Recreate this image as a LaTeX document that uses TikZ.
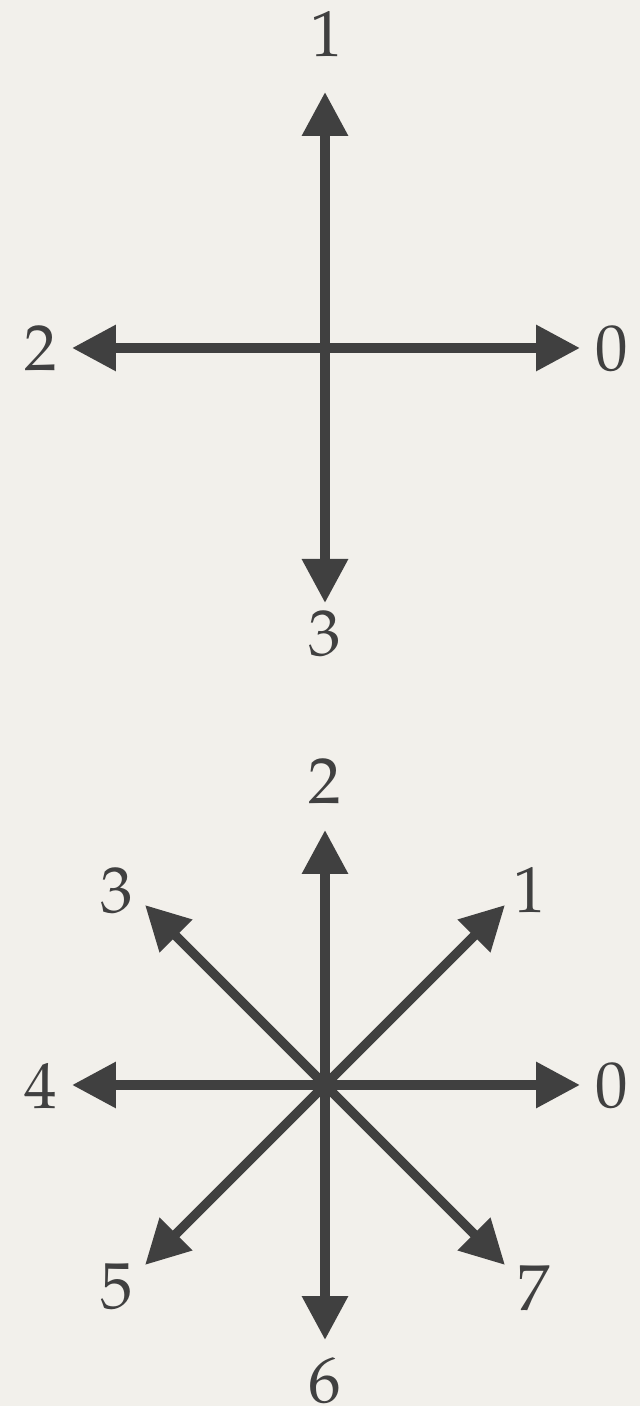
\documentclass[tikz,border=0pt]{standalone}
\usepackage[T1]{fontenc}
\usepackage{mathpazo}
\usepackage{tikz}
\usetikzlibrary{arrows.meta}
\definecolor{paper}{RGB}{242,240,235}
\definecolor{ink}{RGB}{64,64,64}

\begin{document}
\begin{tikzpicture}[
      x=0.02cm, y=0.02cm,
      arr/.style={-{Triangle[length=0.88cm, width=0.88cm]}, line width=0.19cm, color=ink},
      lbl/.style={inner sep=0pt, color=ink, font=\fontsize{37}{40}\selectfont}
  ]
    \fill[paper] (0,0) rectangle (640,1406);
    \useasboundingbox (0,0) rectangle (640,1406);

    % four directions
    \coordinate (ca) at (325,1058);
    \coordinate (a0) at (580,1058);
    \coordinate (a1) at (325,1314);
    \coordinate (a2) at (72,1058);
    \coordinate (a3) at (325,803);

    \draw[arr] (ca) -- (a0);
    \draw[arr] (ca) -- (a1);
    \draw[arr] (ca) -- (a2);
    \draw[arr] (ca) -- (a3);

    \node[lbl] (la0) at (612,1057) {0};
    \node[lbl] (la1) at (327,1372) {1};
    \node[lbl] (la2) at (41,1058)  {2};
    \node[lbl] (la3) at (325,772)  {3};

    % eight directions
    \coordinate (cb) at (325,321);
    \coordinate (b0) at (580,321);
    \coordinate (b1) at (505,501);
    \coordinate (b2) at (325,576);
    \coordinate (b3) at (145,501);
    \coordinate (b4) at (72,321);
    \coordinate (b5) at (145,141);
    \coordinate (b6) at (325,66);
    \coordinate (b7) at (505,141);

    \draw[arr] (cb) -- (b0);
    \draw[arr] (cb) -- (b1);
    \draw[arr] (cb) -- (b2);
    \draw[arr] (cb) -- (b3);
    \draw[arr] (cb) -- (b4);
    \draw[arr] (cb) -- (b5);
    \draw[arr] (cb) -- (b6);
    \draw[arr] (cb) -- (b7);

    \node[lbl] (lb0) at (612,320) {0};
    \node[lbl] (lb1) at (530,516) {1};
    \node[lbl] (lb2) at (325,625) {2};
    \node[lbl] (lb3) at (117,515) {3};
    \node[lbl] (lb4) at (41,320)  {4};
    \node[lbl] (lb5) at (117,119) {5};
    \node[lbl] (lb6) at (325,25)  {6};
    \node[lbl] (lb7) at (534,118) {7};
  \end{tikzpicture}
\end{document}
